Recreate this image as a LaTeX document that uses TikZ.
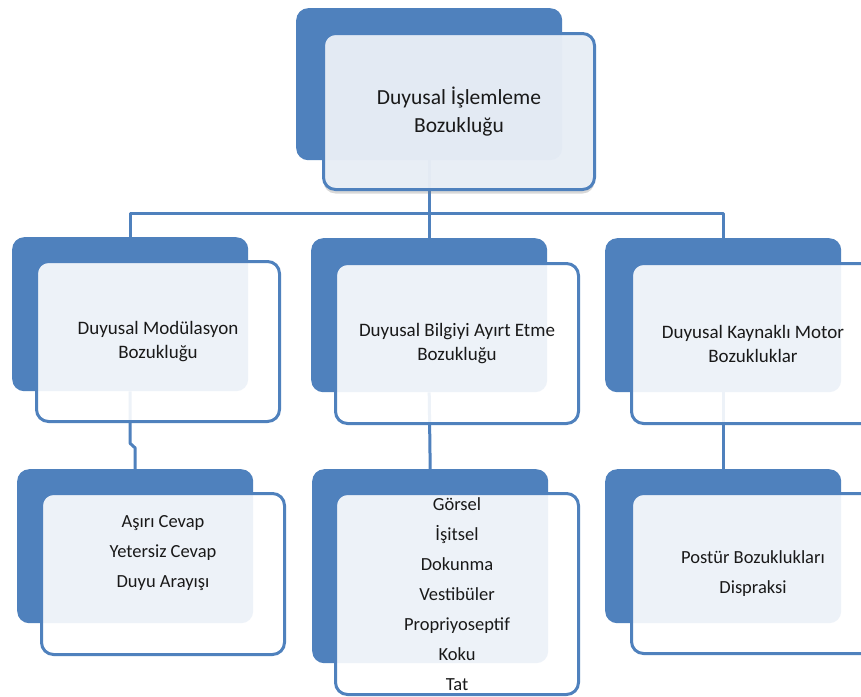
\documentclass[tikz,border=0pt]{standalone}
\usepackage{fontspec}
\setmainfont{Carlito}
\usetikzlibrary{positioning,shadows}
\definecolor{accent}{HTML}{4F81BD}
\definecolor{paleblue}{HTML}{E9EFF7}

\begin{document}
\begin{tikzpicture}[x=1pt,y=-1pt,join=round,
        back/.style={fill=accent,rounded corners=12pt,inner sep=0pt,anchor=north west,minimum width=236pt,minimum height=154pt},
        front/.style={draw=accent,line width=3pt,fill=white,fill opacity=0.9,rounded corners=12pt,inner sep=0pt,anchor=north west,minimum width=243pt,minimum height=160pt},
        boxtext/.style={align=center,text=black!90},
        link/.style={draw=accent,line width=3pt}] % tree of disorder groups
        \useasboundingbox (0,0) rectangle (861,696);
        \clip (0,0) rectangle (861,696);
        \fill[white] (0,0) rectangle (861,696);
        % back plates
        \node[back,minimum width=266pt,minimum height=152pt] (topb) at (296,8) {};
        \node[back] (lb) at (12,237) {};
        \node[back] (mb) at (311,238) {};
        \node[back] (rb) at (605,238) {};
        \node[back] (llb) at (17,469) {};
        \node[back,minimum height=194pt] (mlb) at (312,469) {};
        \node[back] (rlb) at (605,469) {};
        % links
        \coordinate (bus) at (429,213);
        \draw[link] (topb.south) -- (mb.north);
        \draw[link] (lb.north) |- (bus) -| (rb.north);
        \draw[link] (lb.south) -- ++(0,52) -- ([yshift=21pt]llb.north) -- (llb.north);
        \draw[link] (mb.south) -- (mlb.north);
        \draw[link] (rb.south) -- (rlb.north);
        % front plates
        \node[front,fill=paleblue,fill opacity=0.96,minimum width=271pt,minimum height=156pt,
                drop shadow={shadow xshift=0pt,shadow yshift=-4pt,opacity=0.3}] (topf) at (322,32) {};
        \node[front] (lf) at ([shift={(23,23)}]lb.north west) {};
        \node[front] (mf) at ([shift={(23,24)}]mb.north west) {};
        \node[front] (rf) at ([shift={(25,24)}]rb.north west) {};
        \node[front,minimum height=161pt] (llf) at ([shift={(23,23)}]llb.north west) {};
        \node[front,minimum height=201pt] (mlf) at ([shift={(22,23)}]mlb.north west) {};
        \node[front] (rlf) at ([shift={(25,23)}]rlb.north west) {};
        % texts
        \node[boxtext,font=\fontsize{21.5}{28}\selectfont] (topt) at (topf) {Duyusal İşlemleme\\Bozukluğu};
        \begin{scope}[font=\fontsize{19}{24}\selectfont]
        \node[boxtext] (lt) at (lf) {Duyusal Modülasyon\\Bozukluğu};
        \node[boxtext] (mt) at (mf) {Duyusal Bilgiyi Ayırt Etme\\Bozukluğu};
        \node[boxtext] (rt) at (rf) {Duyusal Kaynaklı Motor\\Bozukluklar};
        \end{scope}
        \begin{scope}[font=\fontsize{18.5}{30}\selectfont]
        \node[boxtext] (llt) at ([yshift=21pt]llf.center) {Aşırı Cevap\\Yetersiz Cevap\\Duyu Arayışı};
        \node[boxtext] (mlt) at (mlf) {Görsel\\İşitsel\\Dokunma\\Vestibüler\\Propriyoseptif\\Koku\\Tat};
        \node[boxtext] (rlt) at (rlf) {Postür Bozuklukları\\Dispraksi};
        \end{scope}
\end{tikzpicture}
\end{document}
